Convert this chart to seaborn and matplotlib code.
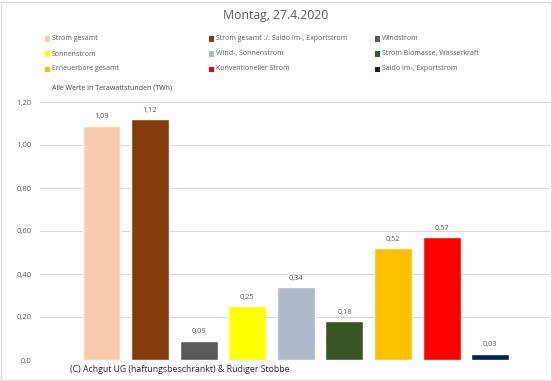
import pandas as pd
import seaborn as sns
import matplotlib.pyplot as plt
from matplotlib.patches import Rectangle

# Chart data
categories = [
    "Strom gesamt",
    "Strom gesamt ./. Saldo Im-, Exportstrom",
    "Windstrom",
    "Sonnenstrom",
    "Wind-, Sonnenstrom",
    "Strom Biomasse, Wasserkraft",
    "Erneuerbare gesamt",
    "Konventioneller Strom",
    "Saldo Im-, Exportstrom",
]
values = [1.09, 1.12, 0.09, 0.25, 0.34, 0.18, 0.52, 0.57, 0.03]
colors = ["#F8CBAD", "#843C0C", "#595959", "#FFFF00", "#ADB9CA",
          "#375623", "#FFC000", "#FF0000", "#002060"]
yticks = [0.0, 0.2, 0.4, 0.6, 0.8, 1.0, 1.2]
ytick_labels = ["0,0", "0,20", "0,40", "0,60", "0,80", "1,00", "1,20"]

df = pd.DataFrame({"Kategorie": categories, "Wert": values})

sns.set_style("white")
plt.rcParams["font.family"] = ["Open Sans", "DejaVu Sans"]

W, H = 552, 381
fig = plt.figure(figsize=(W / 100, H / 100), dpi=100)
ax = fig.add_axes([40 / W, 1 - 360 / H, 510 / W, (360 - 102) / H])

sns.barplot(data=df, x="Kategorie", y="Wert", hue="Kategorie",
            palette=colors, dodge=False, width=0.78, legend=False,
            saturation=1, ax=ax)

ax.set_xlim(-1.265, 9.23)
ax.set_ylim(0, 1.2)
ax.set_yticks(yticks)
ax.set_yticklabels(ytick_labels, fontsize=5.5, color="#595959")
ax.set_xticks([])
ax.set_xlabel("")
ax.set_ylabel("")
ax.tick_params(axis="y", length=0, pad=6)
ax.yaxis.grid(True, color="#D9D9D9", linewidth=0.8)
ax.set_axisbelow(True)
for s in ax.spines.values():
    s.set_visible(False)

# value labels
for i, v in enumerate(values):
    ax.text(i, v + 0.025, f"{v:.2f}".replace(".", ","), ha="center",
            va="bottom", fontsize=5.3, color="#595959")

# title
fig.text(0.5, 1 - 15 / H, "Montag, 27.4.2020", ha="center", va="center",
         fontsize=8.8, color="#595959")

# legend laid out row-wise in 3 columns like the Excel original
col_x = [45, 209, 375]
row_y = [39, 54, 69]
for k, (name, c) in enumerate(zip(categories, colors)):
    r, col = divmod(k, 3)
    x0, y0 = col_x[col], row_y[r]
    fig.add_artist(Rectangle((x0 / W, 1 - (y0 + 2.5) / H), 5 / W, 5 / H,
                             transform=fig.transFigure, facecolor=c,
                             edgecolor="none"))
    fig.text((x0 + 6.5) / W, 1 - y0 / H, name, ha="left", va="center",
             fontsize=5.0, color="#595959")

fig.text(52 / W, 1 - 88 / H, "Alle Werte in Terawattstunden (TWh)",
         ha="left", va="center", fontsize=5.0, color="#404040")

fig.text(70 / W, 1 - 370 / H,
         "(C) Achgut UG (haftungsbeschränkt) & Rüdiger Stobbe",
         ha="left", va="center", fontsize=6.3, color="#262626")

fig.add_artist(Rectangle((0.002, 0.002), 0.996, 0.994, transform=fig.transFigure,
                         fill=False, edgecolor="#D9D9D9", linewidth=0.8))

fig.savefig("out.png", dpi=100)
